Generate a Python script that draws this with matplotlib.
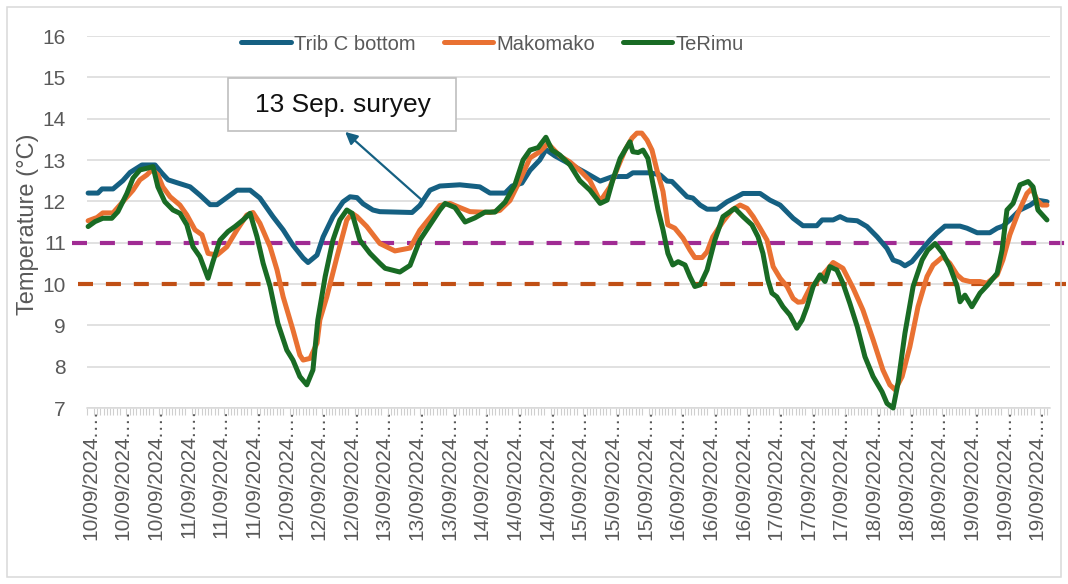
import numpy as np
import matplotlib
matplotlib.use('Agg')
import matplotlib.pyplot as plt
import matplotlib.patches as patches

plt.rcParams['font.family'] = ['Liberation Sans', 'DejaVu Sans']

# logger readings: hours since the first label slot, water temperature (degC)
trib_hours = [-2.0, 0.4, 1.4, 4.1, 6.5, 8.3, 11.2, 14.4, 16.1, 17.6, 19.8, 23.0, 25.4, 27.9, 29.6, 31.0,
              34.5, 37.7, 40.1, 43.3, 45.8, 48.2, 50.7, 51.9, 54.1, 55.6, 58.0, 60.5, 62.2, 63.9, 65.4,
              67.8, 69.5, 77.4, 79.3, 81.8, 84.2, 89.1, 94.0, 96.5, 100.2, 101.9, 104.3, 106.3, 108.7,
              110.2, 112.4, 116.1, 119.8, 123.5, 126.6, 130.1, 131.5, 135.7, 138.2, 139.9, 141.1, 144.8,
              146.2, 148.0, 149.7, 152.1, 154.6, 157.0, 158.5, 162.7, 165.1, 167.6, 170.8, 173.2, 176.6,
              177.9, 180.6, 182.3, 184.0, 186.5, 188.9, 191.4, 193.8, 195.3, 197.0, 198.2, 199.9, 201.9,
              204.3, 206.0, 208.0, 211.7, 213.4, 215.9, 219.0, 220.8, 222.2, 223.9, 226.4, 228.9, 230.6,
              233.0]
trib_temp = [12.2, 12.2, 12.3, 12.3, 12.5, 12.7, 12.88, 12.88, 12.68, 12.52, 12.45, 12.35, 12.15, 11.92,
             11.92, 12.02, 12.27, 12.27, 12.08, 11.63, 11.31, 10.94, 10.63, 10.52, 10.70, 11.14, 11.63,
             11.99, 12.11, 12.09, 11.94, 11.79, 11.75, 11.73, 11.9, 12.27, 12.37, 12.4, 12.35, 12.2,
             12.2, 12.37, 12.44, 12.75, 13.0, 13.25, 13.1, 12.9, 12.7, 12.49, 12.6, 12.6, 12.69, 12.69,
             12.64, 12.49, 12.48, 12.11, 12.08, 11.91, 11.81, 11.81, 11.99, 12.11, 12.19, 12.19, 12.03,
             11.91, 11.59, 11.41, 11.41, 11.55, 11.55, 11.63, 11.55, 11.53, 11.39, 11.14, 10.86, 10.58,
             10.52, 10.44, 10.54, 10.78, 11.06, 11.23, 11.4, 11.4, 11.35, 11.24, 11.24, 11.35, 11.4,
             11.55, 11.79, 11.91, 12.03, 11.99]

mako_hours = [-2.0, 0.2, 1.6, 4.1, 6.5, 9.0, 10.7, 12.4, 13.7, 15.1, 16.3, 18.1, 20.5, 22.2, 24.2, 25.9,
              27.4, 29.6, 32.0, 34.5, 36.9, 38.4, 40.1, 42.6, 44.3, 45.8, 48.2, 49.9, 50.7, 52.4, 54.1,
              54.8, 56.5, 59.0, 61.4, 62.7, 63.9, 66.3, 69.5, 73.2, 76.9, 79.3, 84.2, 86.7, 89.1, 91.6,
              96.5, 98.9, 101.4, 103.8, 106.3, 108.7, 110.7, 113.6, 116.1, 118.5, 121.0, 123.5, 125.9,
              127.9, 129.6, 131.3, 132.5, 133.7, 135.0, 136.2, 137.4, 138.9, 140.1, 141.8, 143.8, 145.5,
              146.7, 148.5, 149.7, 151.1, 153.6, 155.8, 157.8, 159.5, 161.0, 162.7, 164.4, 165.9, 167.6,
              169.3, 170.8, 172.0, 173.2, 174.9, 176.6, 179.1, 180.6, 183.0, 185.5, 187.9, 190.4, 192.8,
              194.5, 195.8, 197.5, 199.4, 201.4, 203.6, 205.1, 207.5, 209.2, 211.0, 212.4, 214.1, 216.6,
              218.3, 220.8, 222.2, 223.9, 225.9, 228.1, 229.3, 230.6, 231.8, 233.0]
mako_temp = [11.53, 11.61, 11.72, 11.72, 11.99, 12.27, 12.52, 12.64, 12.77, 12.64, 12.35, 12.11, 11.91,
             11.67, 11.31, 11.19, 10.74, 10.70, 10.90, 11.31, 11.67, 11.73, 11.47, 10.90, 10.34, 9.69,
             8.89, 8.28, 8.16, 8.2, 8.57, 9.13, 9.69, 10.66, 11.55, 11.71, 11.63, 11.39, 10.98, 10.8,
             10.87, 11.3, 11.9, 11.95, 11.85, 11.75, 11.73, 11.78, 12.02, 12.5, 13.05, 13.2, 13.4, 13.1,
             12.95, 12.75, 12.5, 12.0, 12.35, 12.84, 13.24, 13.53, 13.65, 13.65, 13.48, 13.24, 12.76,
             12.24, 11.43, 11.35, 11.11, 10.82, 10.64, 10.64, 10.78, 11.14, 11.51, 11.79, 11.91, 11.83,
             11.63, 11.35, 11.06, 10.42, 10.14, 9.94, 9.65, 9.56, 9.57, 9.9, 10.06, 10.34, 10.52, 10.38,
             9.9, 9.37, 8.65, 7.92, 7.56, 7.44, 7.76, 8.48, 9.45, 10.18, 10.46, 10.66, 10.5, 10.22, 10.1,
             10.06, 10.06, 10.02, 10.22, 10.58, 11.19, 11.71, 12.19, 12.31, 12.03, 11.91, 11.91]

terimu_hours = [-2.0, -0.3, 1.6, 3.8, 5.3, 7.5, 9.0, 10.7, 12.4, 13.9, 15.1, 16.8, 18.8, 20.5, 22.2, 23.7,
                25.4, 27.4, 28.6, 30.3, 32.3, 34.0, 36.0, 37.7, 39.4, 40.9, 42.6, 44.5, 46.7, 48.2, 49.9,
                51.6, 53.1, 54.3, 56.1, 58.0, 59.7, 61.4, 62.7, 64.6, 67.1, 69.5, 70.8, 74.4, 76.9, 79.3,
                81.8, 84.2, 85.5, 87.9, 90.4, 92.8, 95.3, 97.7, 100.2, 102.6, 104.6, 106.3, 108.3, 110.2,
                111.7, 113.6, 116.1, 118.5, 121.0, 123.5, 125.2, 126.6, 128.4, 129.6, 130.8, 131.5, 132.8,
                134.0, 135.2, 136.4, 137.7, 138.9, 140.1, 141.3, 142.6, 144.3, 145.5, 146.7, 148.0, 149.7,
                151.6, 153.6, 156.5, 158.5, 160.7, 162.2, 163.4, 164.6, 165.6, 166.8, 168.3, 170.0, 171.7,
                173.0, 174.2, 175.7, 177.4, 178.6, 179.8, 181.5, 183.0, 184.7, 186.5, 188.4, 190.4, 192.6,
                193.8, 195.3, 196.5, 198.2, 200.2, 202.4, 203.8, 205.6, 207.5, 209.2, 211.0, 211.7, 212.9,
                214.6, 216.6, 218.5, 220.8, 222.0, 223.2, 224.7, 226.4, 228.4, 229.6, 230.8, 233.0]
terimu_temp = [11.39, 11.51, 11.59, 11.59, 11.75, 12.19, 12.56, 12.76, 12.8, 12.84, 12.35, 11.99, 11.79,
               11.71, 11.43, 10.9, 10.66, 10.14, 10.54, 11.06, 11.27, 11.39, 11.55, 11.71, 11.14, 10.5,
               9.94, 9.05, 8.4, 8.16, 7.76, 7.56, 7.92, 9.13, 10.18, 11.06, 11.55, 11.79, 11.71, 11.06,
               10.74, 10.5, 10.38, 10.29, 10.45, 11.06, 11.43, 11.79, 11.95, 11.85, 11.5, 11.6, 11.74,
               11.74, 11.98, 12.4, 13.0, 13.24, 13.3, 13.55, 13.24, 13.12, 12.88, 12.5, 12.27, 11.95,
               12.03, 12.52, 13.04, 13.24, 13.44, 13.2, 13.18, 13.24, 13.04, 12.44, 11.79, 11.31, 10.74,
               10.46, 10.54, 10.46, 10.18, 9.94, 9.98, 10.34, 11.06, 11.63, 11.83, 11.63, 11.43, 11.14,
               10.74, 10.1, 9.78, 9.69, 9.45, 9.25, 8.93, 9.13, 9.45, 9.94, 10.22, 10.06, 10.42, 10.34,
               10.02, 9.53, 8.97, 8.24, 7.76, 7.39, 7.11, 7.0, 7.6, 8.81, 9.94, 10.58, 10.82, 10.98, 10.74,
               10.42, 9.94, 9.57, 9.73, 9.45, 9.78, 9.98, 10.26, 10.82, 11.79, 11.95, 12.4, 12.48, 12.35,
               11.79, 11.55]

days = ['10', '11', '12', '13', '14', '15', '16', '17', '18', '19']
tick_labels = [d + '/09/2024.\u2026' for d in days for _ in range(3)]

upper_limit = 11.0
lower_limit = 10.0

survey_note = '13 Sep. suryey'
survey_point = (79.8, 12.03)

BLUE = '#156082'
ORANGE = '#E97132'
GREEN = '#196B24'
GREY_TXT = '#595959'
GRID = '#d9d9d9'

W, H = 1068, 584
fig = plt.figure(figsize=(W / 100, H / 100), dpi=100)
ax = fig.add_axes([87.3 / W, 1 - 408 / H, (1050 - 87.3) / W, (408 - 36) / H])

ax.plot(trib_hours, trib_temp, color=BLUE, lw=3.6, solid_joinstyle='round',
        solid_capstyle='round', label='Trib C bottom', zorder=3, clip_on=False)
ax.plot(mako_hours, mako_temp, color=ORANGE, lw=3.6, solid_joinstyle='round',
        solid_capstyle='round', label='Makomako', zorder=3, clip_on=False)
ax.plot(terimu_hours, terimu_temp, color=GREEN, lw=3.6, solid_joinstyle='round',
        solid_capstyle='round', label='TeRimu', zorder=3, clip_on=False)

# threshold lines run a little past the plot area on both sides
ax.axhline(upper_limit, xmin=(72 - 87.3) / 962.7, xmax=(1066 - 87.3) / 962.7, color='#A02B93',
           lw=3.0, dashes=(3.6, 3.1), clip_on=False, zorder=2)
ax.axhline(lower_limit, xmin=(78 - 87.3) / 962.7, xmax=(1066 - 87.3) / 962.7, color='#C04F15',
           lw=3.0, dashes=(3.6, 3.1), clip_on=False, zorder=2)

ax.set_xlim(-2.2, 233.75)
ax.set_ylim(7, 16)
ax.set_yticks(range(7, 17))
ax.grid(axis='y', color=GRID, lw=1.1, zorder=0)
ax.set_axisbelow(True)

ax.set_xticks(np.arange(len(tick_labels)) * 8 - 1.4)
ax.set_xticklabels(tick_labels, rotation=90, ha='center', va='top')
ax.set_xticks(np.arange(-2.2, 233.8, 0.8), minor=True)
ax.tick_params(axis='x', which='major', length=0, pad=0.5, labelsize=15, labelcolor=GREY_TXT)
ax.tick_params(axis='x', which='minor', length=5, width=0.8, color='#cfcfcf', direction='out')
ax.tick_params(axis='y', length=0, pad=15.5, labelsize=15, labelcolor=GREY_TXT)

for side in ['top', 'right', 'left']:
    ax.spines[side].set_visible(False)
ax.spines['bottom'].set_color(GRID)
ax.spines['bottom'].set_linewidth(1.1)

fig.text(28 / W, 1 - 224.5 / H, 'Temperature (\u00b0C)', rotation=90, ha='center', va='center',
         fontsize=17, color=GREY_TXT)

leg = ax.legend(loc='center', bbox_to_anchor=(492.5 / W, 1 - 44 / H), bbox_transform=fig.transFigure,
                ncol=3, frameon=False, fontsize=14.5, handlelength=2.45, handletextpad=0.15,
                columnspacing=1.4, borderpad=0, borderaxespad=0)
for t in leg.get_texts():
    t.set_color(GREY_TXT)
for h in leg.get_lines():
    h.set_solid_capstyle('round')

# survey call-out box and arrow
ax.add_patch(patches.Rectangle((228 / W, 1 - 131 / H), 228 / W, 53 / H, transform=fig.transFigure,
                               facecolor='white', edgecolor='#bfbfbf', lw=1.2, clip_on=False, zorder=5))
ax.text(343 / W, 1 - 105 / H, survey_note, transform=fig.transFigure, ha='center', va='center',
        fontsize=19, color='#111111', zorder=6)
ax.annotate('', xy=(61.0, 13.68), xytext=survey_point, annotation_clip=False,
            arrowprops=dict(arrowstyle='-|>', color=BLUE, lw=1.6, mutation_scale=18,
                            shrinkA=0, shrinkB=0), zorder=6)

# outer chart border
fig.patches.append(patches.Rectangle((7 / W, 7 / H), (W - 14) / W, (H - 14) / H, transform=fig.transFigure,
                                     fill=False, edgecolor=GRID, lw=1.1))

fig.savefig('out.png', dpi=100)
